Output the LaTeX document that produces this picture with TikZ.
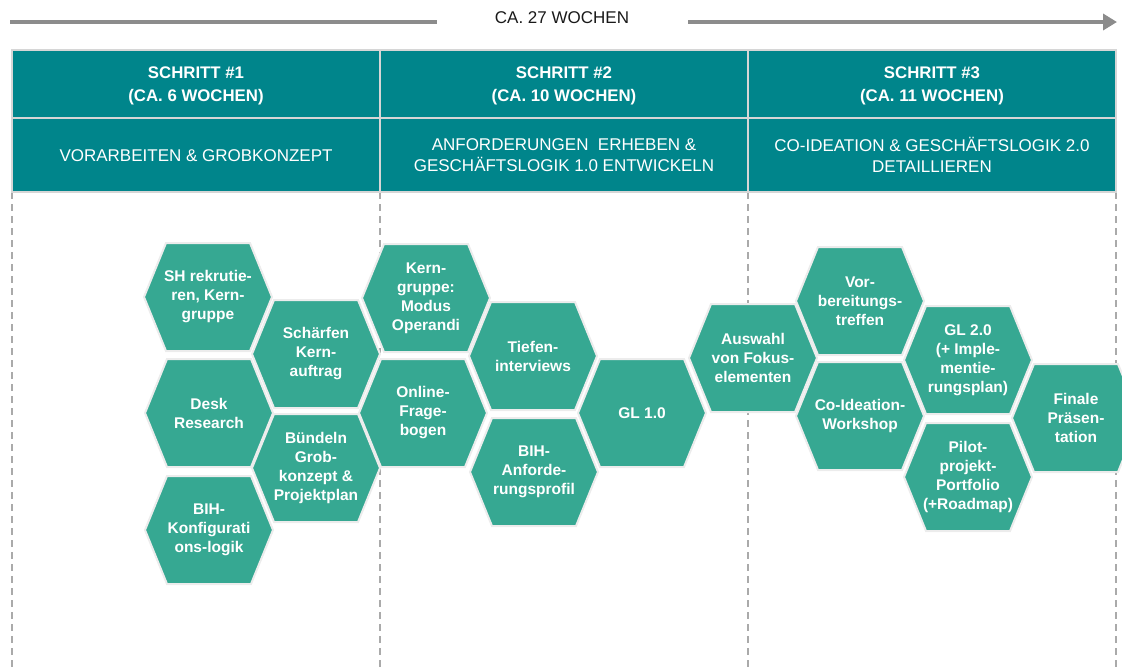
\documentclass[tikz,border=0pt]{standalone}
\usepackage{fontspec}
\setmainfont{Liberation Sans}
\usetikzlibrary{arrows.meta}
\definecolor{headteal}{RGB}{0,133,139}
\definecolor{hexgreen}{RGB}{54,168,146}
\definecolor{hexedge}{RGB}{236,236,236}
\definecolor{gridline}{RGB}{214,214,214}
\definecolor{dashgray}{RGB}{170,170,170}
\definecolor{arrowgray}{RGB}{140,140,140}
\tikzset{
  hexshape/.style={fill=hexgreen, draw=hexedge, line width=2pt, line join=miter},
  hextext/.style={text=white, font=\fontsize{15.5}{19}\selectfont\bfseries, align=center, inner sep=0pt},
  headbold/.style={text=white, font=\fontsize{16.8}{23}\selectfont\bfseries, align=center, inner sep=0pt},
  headreg/.style={text=white, font=\fontsize{17}{21}\selectfont, align=center, inner sep=0pt},
  cell/.style={fill=headteal, draw=gridline, line width=1.2pt},
  phaseline/.style={draw=dashgray, line width=1.6pt, dash pattern=on 7pt off 5pt},
  timeline/.style={draw=arrowgray, line width=4pt},
}
\newcommand\hexcell[4]{%
  \begin{scope}[shift={(#2,#3)}]
    \path[hexshape] (-64,0) -- (-42,-54) -- (42,-54) -- (64,0) -- (42,54) -- (-42,54) -- cycle;
  \end{scope}
  \node[hextext] (#1) at (#2,#3) {#4};
}
\begin{document}
\begin{tikzpicture}[x=1pt,y=-1pt]
\useasboundingbox (0,0) rectangle (1122,670);
% timeline
\node[font=\fontsize{17}{20}\selectfont, text=black!90, inner sep=0pt] (title) at (562,18) {CA. 27 WOCHEN};
\coordinate (tlA) at (10,22);
\coordinate (tlB) at (437,22);
\coordinate (tlC) at (688,22);
\coordinate (tlD) at (1117,22);
\draw[timeline] (tlA) -- (tlB);
\draw[timeline, -{Triangle[length=14pt,width=16pt]}] (tlC) -- (tlD);
% dashed phase lines
\draw[phaseline] (12,192) -- (12,670);
\draw[phaseline] (380,192) -- (380,670);
\draw[phaseline] (748,192) -- (748,670);
\draw[phaseline] (1116,192) -- (1116,670);
% header cells
\path[cell] (12,50) rectangle (380,118);
\path[cell] (380,50) rectangle (748,118);
\path[cell] (748,50) rectangle (1116,118);
\path[cell] (12,118) rectangle (380,192);
\path[cell] (380,118) rectangle (748,192);
\path[cell] (748,118) rectangle (1116,192);
\node[headbold] (s1) at (196,86) {SCHRITT \#1\\(CA. 6 WOCHEN)};
\node[headbold] (s2) at (564,86) {SCHRITT \#2\\(CA. 10 WOCHEN)};
\node[headbold] (s3) at (932,86) {SCHRITT \#3\\(CA. 11 WOCHEN)};
\node[headreg] (p1) at (196,156) {VORARBEITEN \& GROBKONZEPT};
\node[headreg] (p2) at (564,155) {ANFORDERUNGEN~ ERHEBEN \&\\GESCHÄFTSLOGIK 1.0 ENTWICKELN};
\node[headreg] (p3) at (932,155) {CO-IDEATION \& GESCHÄFTSLOGIK 2.0\\DETAILLIEREN};
% hexagons
\hexcell{sh}{208}{297}{SH rekrutie-\\ren, Kern-\\gruppe}
\hexcell{desk}{209}{413}{Desk\\Research}
\hexcell{konf}{209}{530}{BIH-\\Konfigurati\\ons-logik}
\hexcell{schaerf}{316}{354}{Schärfen\\Kern-\\auftrag}
\hexcell{buend}{316}{468}{Bündeln\\Grob-\\konzept \&\\Projektplan}
\hexcell{kern}{426}{298}{Kern-\\gruppe:\\Modus\\Operandi}
\hexcell{online}{423}{413}{Online-\\Frage-\\bogen}
\hexcell{tiefen}{533}{356}{Tiefen-\\interviews}
\hexcell{anford}{534}{472}{BIH-\\Anforde-\\rungsprofil}
\hexcell{gleins}{642}{413}{GL 1.0}
\hexcell{auswahl}{753}{358}{Auswahl\\von Fokus-\\elementen}
\hexcell{vorb}{860}{301}{Vor-\\bereitungs-\\treffen}
\hexcell{coid}{860}{416}{Co-Ideation-\\Workshop}
\hexcell{glzwei}{968}{360}{GL 2.0\\(+ Imple-\\mentie-\\rungsplan)}
\hexcell{pilot}{968}{477}{Pilot-\\projekt-\\Portfolio\\(+Roadmap)}
\hexcell{finale}{1076}{418}{Finale\\Präsen-\\tation}
\end{tikzpicture}
\end{document}
